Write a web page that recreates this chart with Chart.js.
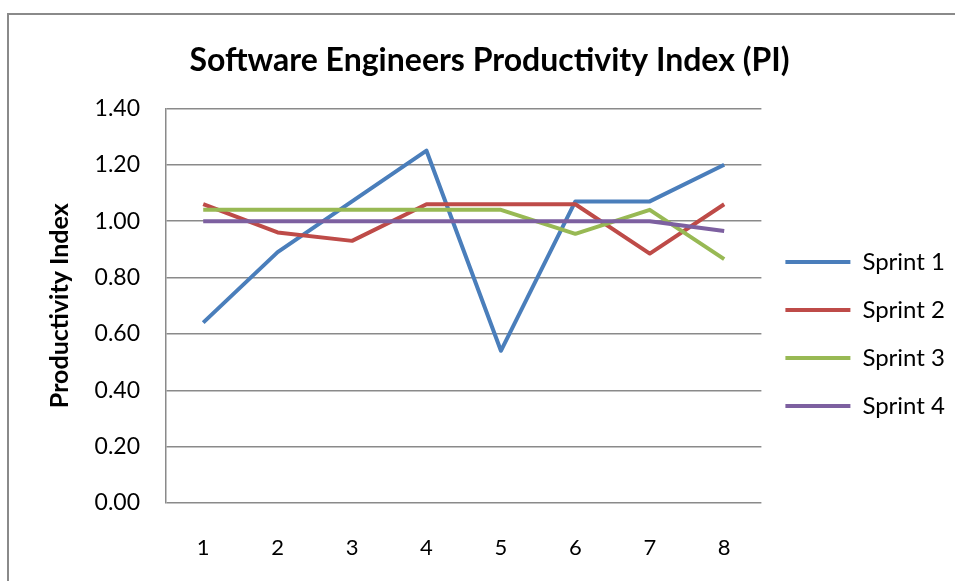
<!DOCTYPE html>
<html>
<head>
<meta charset="utf-8">
<script src="https://cdn.jsdelivr.net/npm/chart.js@4.4.1/dist/chart.umd.min.js"></script>
<style>
  html, body { margin: 0; padding: 0; background: #fff; }
  #wrap { width: 955px; height: 581px; position: relative; }
</style>
</head>
<body>
<div id="wrap"><canvas id="chart"></canvas></div>
<script>
// chart data
const categories = ['1', '2', '3', '4', '5', '6', '7', '8'];
const sprint1 = [0.64, 0.89, 1.07, 1.25, 0.54, 1.07, 1.07, 1.20];
const sprint2 = [1.06, 0.96, 0.93, 1.06, 1.06, 1.06, 0.885, 1.06];
const sprint3 = [1.04, 1.04, 1.04, 1.04, 1.04, 0.955, 1.04, 0.865];
const sprint4 = [1.00, 1.00, 1.00, 1.00, 1.00, 1.00, 1.00, 0.965];
const seriesNames = ['Sprint 1', 'Sprint 2', 'Sprint 3', 'Sprint 4'];
const seriesColors = ['#4a7ebb', '#be4b48', '#98b954', '#7d60a0'];

const FONT = 'Lato, "Liberation Sans", sans-serif';

// Outer frame around the chart
const framePlugin = {
    id: 'frame',
    beforeDraw(chart) {
        const ctx = chart.ctx;
        ctx.save();
        ctx.strokeStyle = '#8a8a8a';
        ctx.lineWidth = 2;
        ctx.strokeRect(8, 14, chart.width + 20, chart.height + 20);
        ctx.restore();
    }
};

function makeDataset(i, values) {
    return {
        label: seriesNames[i],
        data: values,
        borderColor: seriesColors[i],
        backgroundColor: seriesColors[i],
        borderWidth: 4,
        pointRadius: 0,
        pointHoverRadius: 0,
        tension: 0,
        borderJoinStyle: 'round',
        order: 3 - i
    };
}

function drawChart() {
    const ctx = document.getElementById('chart').getContext('2d');
    new Chart(ctx, {
        type: 'line',
        data: {
            labels: categories,
            datasets: [
                makeDataset(0, sprint1),
                makeDataset(1, sprint2),
                makeDataset(2, sprint3),
                makeDataset(3, sprint4)
            ]
        },
        options: {
            responsive: true,
            maintainAspectRatio: false,
            animation: false,
            layout: { padding: { top: 0, left: 24, right: 0, bottom: 20 } },
            plugins: {
                title: {
                    display: true,
                    text: 'Software Engineers Productivity Index (PI)',
                    color: '#000',
                    font: { family: FONT, size: 32, weight: 'bold' },
                    padding: { top: 41, bottom: 29 }
                },
                legend: {
                    position: 'right',
                    // empty title only pushes the items down
                    title: {
                        display: true,
                        text: '',
                        font: { size: 10 },
                        padding: { top: 95, bottom: 0 }
                    },
                    labels: {
                        usePointStyle: true,
                        pointStyle: 'line',
                        pointStyleWidth: 65,
                        color: '#000',
                        font: { family: FONT, size: 24 },
                        padding: 24,
                        sort: (a, b) => a.datasetIndex - b.datasetIndex
                    }
                },
                tooltip: { enabled: false }
            },
            scales: {
                x: {
                    offset: true,
                    grid: { display: false, drawTicks: false },
                    border: { display: false },
                    ticks: {
                        color: '#000',
                        font: { family: FONT, size: 22 },
                        padding: 32,
                        maxRotation: 0
                    },
                    afterFit(scale) { scale.height = 58; }
                },
                y: {
                    min: 0,
                    max: 1.4,
                    ticks: {
                        stepSize: 0.2,
                        color: '#000',
                        font: { family: FONT, size: 23 },
                        padding: 26,
                        callback: (v) => v.toFixed(2)
                    },
                    grid: { color: '#8a8a8a', lineWidth: 1.5, drawTicks: false },
                    border: { display: true, color: '#8a8a8a', width: 1.5 },
                    title: {
                        display: true,
                        text: 'Productivity Index',
                        color: '#000',
                        font: { family: FONT, size: 25, weight: 'bold' },
                        padding: { top: 21, bottom: 0 }
                    },
                    afterFit(scale) { scale.width = 142; }
                }
            }
        },
        plugins: [framePlugin]
    });
}

// make sure Lato is ready before Chart.js measures text
Promise.all([
    document.fonts.load('22px Lato'),
    document.fonts.load('bold 22px Lato')
]).then(drawChart, drawChart);
</script>
</body>
</html>
